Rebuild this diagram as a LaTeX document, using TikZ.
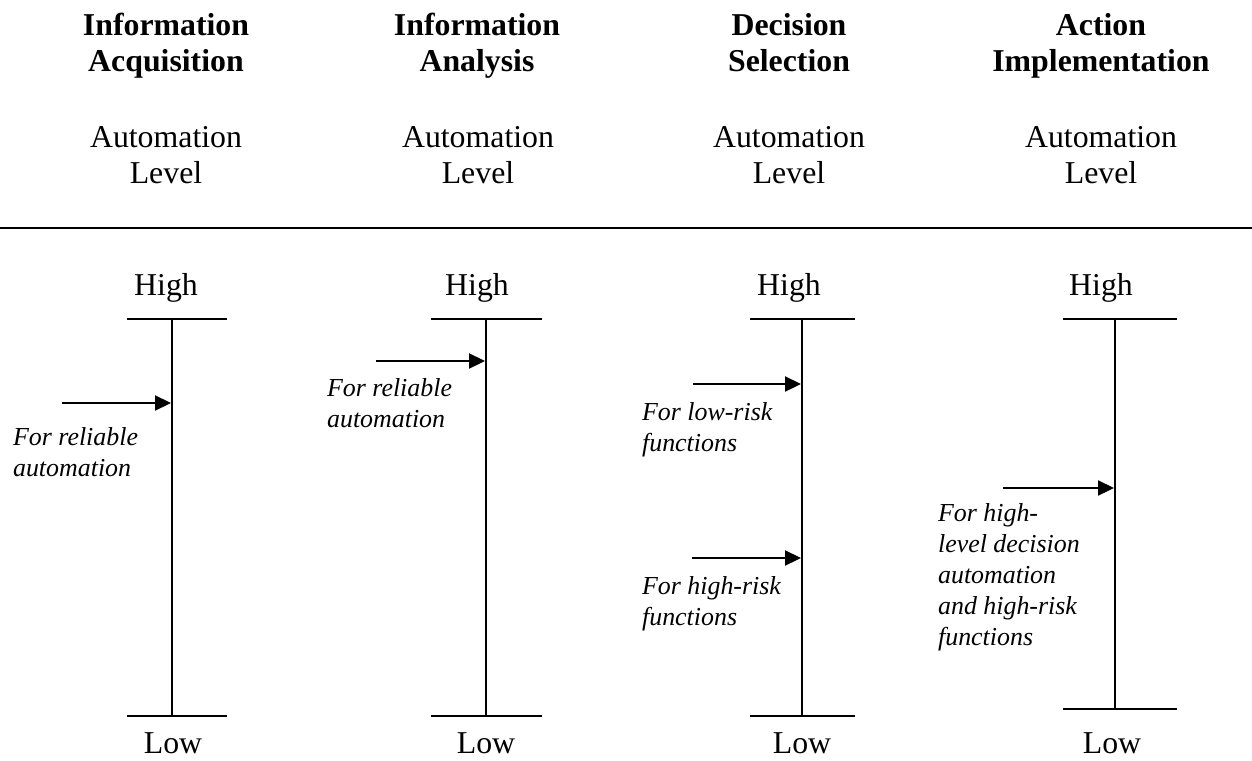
\documentclass[tikz,border=0pt]{standalone}
\usepackage{fontspec}
\setmainfont{Liberation Serif}
\usetikzlibrary{arrows.meta}
\begin{document}
\begin{tikzpicture}[
    x=1pt,
    y=-1pt,
    line width=2.2pt,
    title/.style={font=\fontsize{31.8}{35.5}\selectfont\bfseries, align=center, anchor=base, inner sep=0pt},
    body/.style={font=\fontsize{31.8}{36}\selectfont, align=center, anchor=base, inner sep=0pt},
    remark/.style={font=\fontsize{25.9}{31}\selectfont\itshape, align=left, anchor=base west, inner sep=0pt},
    pointer/.style={-{Triangle[length=16pt,width=15pt]}}
  ]
  \useasboundingbox (0,0) rectangle (1252,760);

  % column titles (anchored on the last line)
  \node[title] (t1) at (166,71) {Information\\Acquisition};
  \node[title] (t2) at (477,71) {Information\\Analysis};
  \node[title] (t3) at (789,71) {Decision\\Selection};
  \node[title] (t4) at (1101,71) {Action\\Implementation};

  \node[body] (a1) at (166,183) {Automation\\Level};
  \node[body] (a2) at (478,183) {Automation\\Level};
  \node[body] (a3) at (789,183) {Automation\\Level};
  \node[body] (a4) at (1101,183) {Automation\\Level};

  \coordinate (ruleL) at (0,228);
  \coordinate (ruleR) at (1252,228);
  \draw (ruleL) -- (ruleR);

  % scales
  \begin{scope}[body]
    \node (hi1) at (166,295) {High};
    \node (hi2) at (477,295) {High};
    \node (hi3) at (789,295) {High};
    \node (hi4) at (1101,295) {High};
    \node (lo1) at (173,753) {Low};
    \node (lo2) at (486,753) {Low};
    \node (lo3) at (802,753) {Low};
    \node (lo4) at (1112,753) {Low};
  \end{scope}

  \coordinate (top1) at (172,319);  \coordinate (bot1) at (172,716);
  \coordinate (top2) at (486,319);  \coordinate (bot2) at (486,716);
  \coordinate (top3) at (802,319);  \coordinate (bot3) at (802,716);
  \coordinate (top4) at (1115,319); \coordinate (bot4) at (1115,709);

  \draw (top1) -- (bot1) ([xshift=-45pt]top1) -- ([xshift=55pt]top1)
    ([xshift=-45pt]bot1) -- ([xshift=55pt]bot1);
  \draw (top2) -- (bot2) ([xshift=-55pt]top2) -- ([xshift=56pt]top2)
    ([xshift=-55pt]bot2) -- ([xshift=56pt]bot2);
  \draw (top3) -- (bot3) ([xshift=-52pt]top3) -- ([xshift=53pt]top3)
    ([xshift=-52pt]bot3) -- ([xshift=53pt]bot3);
  \draw (top4) -- (bot4) ([xshift=-52pt]top4) -- ([xshift=62pt]top4)
    ([xshift=-52pt]bot4) -- ([xshift=62pt]bot4);

  % pointers
  \coordinate (s1) at (62,403);   \coordinate (e1) at (171,403);
  \coordinate (s2) at (376,361);  \coordinate (e2) at (485,361);
  \coordinate (s3) at (693,384);  \coordinate (e3) at (801,384);
  \coordinate (s4) at (692,558);  \coordinate (e4) at (801,558);
  \coordinate (s5) at (1003,488); \coordinate (e5) at (1114,488);
  \draw[pointer] (s1) -- (e1);
  \draw[pointer] (s2) -- (e2);
  \draw[pointer] (s3) -- (e3);
  \draw[pointer] (s4) -- (e4);
  \draw[pointer] (s5) -- (e5);

  % remarks (anchored on the last line)
  \node[remark] (r1) at (12,476) {For reliable\\automation};
  \node[remark] (r2) at (326,427) {For reliable\\automation};
  \node[remark] (r3) at (641,451) {For low-risk\\functions};
  \node[remark] (r4) at (641,625) {For high-risk\\functions};
  \node[remark] (r5) at (937,645) {For high-\\level decision\\automation\\and high-risk\\functions};
\end{tikzpicture}
\end{document}
